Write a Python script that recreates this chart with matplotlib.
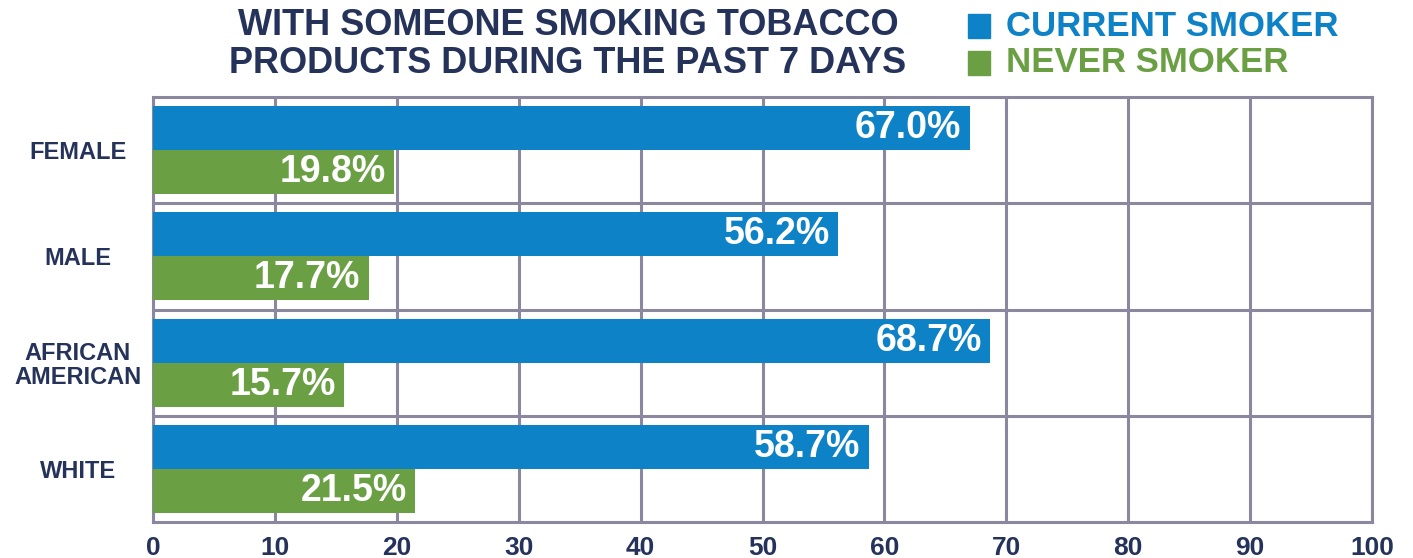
import matplotlib.pyplot as plt
from matplotlib.patches import Rectangle

# data
groups = ["FEMALE", "MALE", "AFRICAN\nAMERICAN", "WHITE"]
current_smoker = [67.0, 56.2, 68.7, 58.7]
never_smoker = [19.8, 17.7, 15.7, 21.5]
x_ticks = [0, 10, 20, 30, 40, 50, 60, 70, 80, 90, 100]

blue = "#0E82C6"
green = "#6AA043"
navy = "#25335A"
gridc = "#8A879F"
font = "Liberation Sans"

fig = plt.figure(figsize=(14.13, 5.58), dpi=100)
ax = fig.add_axes([153 / 1413, 1 - 522 / 558, (1372 - 153) / 1413, (522 - 97) / 558])

bh = 0.415
pos = [i + 0.5 for i in range(len(groups))]
b1 = ax.barh([p - bh / 2 for p in pos], current_smoker, height=bh, color=blue, zorder=3)
b2 = ax.barh([p + bh / 2 for p in pos], never_smoker, height=bh, color=green, zorder=3)

for bars, vals in [(b1, current_smoker), (b2, never_smoker)]:
    for bar, v in zip(bars, vals):
        ax.annotate(f"{v:.1f}%", (v, bar.get_y() + bar.get_height() / 2),
                    xytext=(-6, 0), textcoords="offset points",
                    ha="right", va="center", color="white",
                    fontsize=27, fontweight="bold", family=font, zorder=4)

ax.set_xlim(0, 100)
ax.set_ylim(len(groups), 0)
ax.set_xticks(x_ticks)
ax.set_xticklabels([str(t) for t in x_ticks], fontsize=19, fontweight="bold",
                   color=navy, family=font)
ax.set_yticks(pos)
ax.set_yticklabels(groups, fontsize=17, fontweight="bold", color=navy,
                   family=font, ha="center", linespacing=1.05)
ax.set_yticks([1, 2, 3], minor=True)
ax.tick_params(axis="x", length=0, pad=10)
ax.tick_params(axis="y", which="both", length=0, pad=54)

ax.set_axisbelow(True)
ax.grid(axis="x", color=gridc, linewidth=2.2)
ax.grid(axis="y", which="minor", color=gridc, linewidth=2.2)
for s in ax.spines.values():
    s.set_color(gridc)
    s.set_linewidth(2.2)

# title
fig.text(568 / 1413, 1 - 8 / 558,
         "WITH SOMEONE SMOKING TOBACCO\nPRODUCTS DURING THE PAST 7 DAYS",
         ha="center", va="top", fontsize=26, fontweight="bold", color=navy,
         family=font, linespacing=1.12)

# legend
for y_top, label, c in [(14, "CURRENT SMOKER", blue), (51, "NEVER SMOKER", green)]:
    fig.add_artist(Rectangle((968 / 1413, 1 - (y_top + 24) / 558), 22 / 1413, 24 / 558,
                             transform=fig.transFigure, color=c))
    fig.text(1006 / 1413, 1 - (y_top + 12) / 558, label, ha="left", va="center",
             fontsize=25, fontweight="bold", color=c, family=font)

fig.savefig("out.png", dpi=100)
